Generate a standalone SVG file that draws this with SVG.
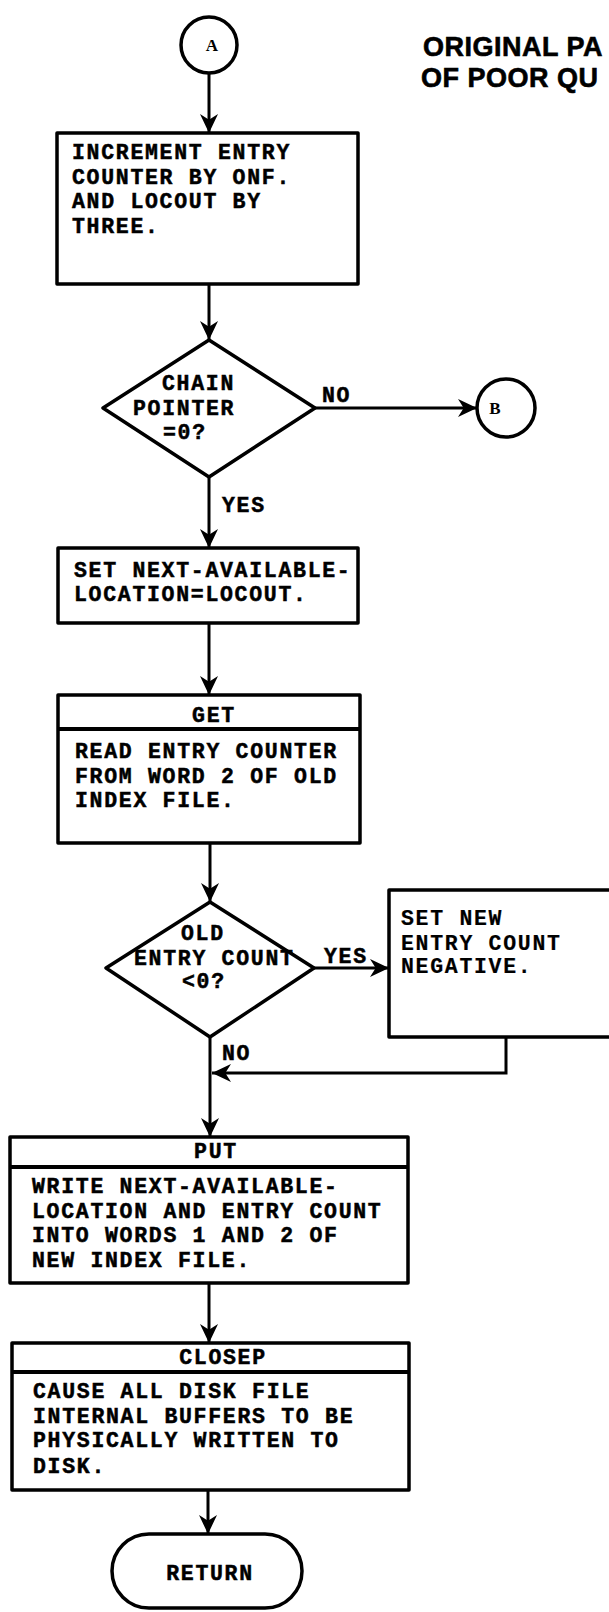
<svg xmlns="http://www.w3.org/2000/svg" width="609" height="1612" viewBox="0 0 609 1612">
<defs>
<style>
.shape{fill:#fff;stroke:#000;stroke-width:3.5;stroke-linejoin:round}
.div{stroke:#000;stroke-width:4}
.conn{fill:none;stroke:#000;stroke-width:3}
.t{font-family:"Liberation Mono","DejaVu Sans Mono",monospace;font-weight:bold;font-size:21.5px;letter-spacing:1.7px;fill:#000;stroke:#000;stroke-width:0.5}
.tn{stroke-width:0.2}
.c{text-anchor:middle}
.lbl{font-family:"Liberation Serif","Times New Roman",serif;font-weight:bold;font-size:17px;fill:#000;text-anchor:middle}
.stamp{font-family:"Liberation Sans",Arial,sans-serif;font-weight:bold;font-size:27px;letter-spacing:0.5px;fill:#000;stroke:#000;stroke-width:0.6}
</style>
<marker id="ah" viewBox="0 0 20 20" refX="20" refY="10" markerWidth="20" markerHeight="19" orient="auto" markerUnits="userSpaceOnUse">
<path d="M0,0.5 L20,10 L0,19.5 L6,10 Z" fill="#000"/>
</marker>
</defs>
<rect width="609" height="1612" fill="#fff"/>

<g id="stamp">
<text class="stamp" x="423" y="56">ORIGINAL PA</text>
<text class="stamp" x="421" y="87">OF POOR QU</text>
</g>

<g id="connectors">
<path class="conn" d="M209,73 L209,133" marker-end="url(#ah)"/>
<path class="conn" d="M209,284 L209,340" marker-end="url(#ah)"/>
<path class="conn" d="M315,408 L477,408" marker-end="url(#ah)"/>
<path class="conn" d="M209,477 L209,548" marker-end="url(#ah)"/>
<path class="conn" d="M209,623 L209,695" marker-end="url(#ah)"/>
<path class="conn" d="M210,843 L210,902" marker-end="url(#ah)"/>
<path class="conn" d="M314,968 L389,968" marker-end="url(#ah)"/>
<path class="conn" d="M506,1037 L506,1073 L212,1073" marker-end="url(#ah)"/>
<path class="conn" d="M210,1037 L210,1137" marker-end="url(#ah)"/>
<path class="conn" d="M209,1283 L209,1343" marker-end="url(#ah)"/>
<path class="conn" d="M208,1490 L208,1534" marker-end="url(#ah)"/>
<text class="t" x="322" y="402">NO</text>
<text class="t" x="222" y="512">YES</text>
<text class="t" x="324" y="963">YES</text>
<text class="t" x="222" y="1060">NO</text>
</g>

<g id="connA">
<circle class="shape" cx="209" cy="45" r="28"/>
<text class="lbl" x="212" y="51">A</text>
</g>

<g id="increment">
<rect class="shape" x="57" y="133" width="301" height="151"/>
<text class="t" x="72" y="159">INCREMENT ENTRY</text>
<text class="t" x="72" y="184">COUNTER BY ONF.</text>
<text class="t" x="72" y="208">AND LOCOUT BY</text>
<text class="t" x="72" y="233">THREE.</text>
</g>

<g id="chain">
<polygon class="shape" points="209,340 315,408 209,477 103,408"/>
<text class="t" x="162" y="390">CHAIN</text>
<text class="t" x="133" y="415">POINTER</text>
<text class="t" x="163" y="439">=0?</text>
</g>

<g id="connB">
<circle class="shape" cx="506" cy="408" r="29"/>
<text class="lbl" x="495" y="414">B</text>
</g>

<g id="setnext">
<rect class="shape" x="58" y="548" width="300" height="75"/>
<text class="t" x="74" y="577">SET NEXT-AVAILABLE-</text>
<text class="t" x="74" y="601">LOCATION=LOCOUT.</text>
</g>

<g id="get">
<rect class="shape" x="58" y="695" width="302" height="148"/>
<line class="div" x1="58" y1="729" x2="360" y2="729"/>
<text class="t c" x="214" y="722">GET</text>
<text class="t" x="75" y="758">READ ENTRY COUNTER</text>
<text class="t" x="75" y="783">FROM WORD 2 OF OLD</text>
<text class="t" x="75" y="807">INDEX FILE.</text>
</g>

<g id="oldcount">
<polygon class="shape" points="210,902 314,968 210,1037 106,968"/>
<text class="t" x="181" y="940">OLD</text>
<text class="t" x="134" y="965">ENTRY COUNT</text>
<text class="t" x="182" y="988">&lt;0?</text>
</g>

<g id="setnew">
<rect class="shape" x="389" y="890" width="235" height="147"/>
<text class="t tn" x="401" y="925">SET NEW</text>
<text class="t tn" x="401" y="950">ENTRY COUNT</text>
<text class="t tn" x="401" y="973">NEGATIVE.</text>
</g>

<g id="put">
<rect class="shape" x="10" y="1137" width="398" height="146"/>
<line class="div" x1="10" y1="1167" x2="408" y2="1167"/>
<text class="t c" x="216" y="1158">PUT</text>
<text class="t" x="32" y="1193">WRITE NEXT-AVAILABLE-</text>
<text class="t" x="32" y="1218">LOCATION AND ENTRY COUNT</text>
<text class="t" x="32" y="1242">INTO WORDS 1 AND 2 OF</text>
<text class="t" x="32" y="1267">NEW INDEX FILE.</text>
</g>

<g id="closep">
<rect class="shape" x="12" y="1343" width="397" height="147"/>
<line class="div" x1="12" y1="1372" x2="409" y2="1372"/>
<text class="t c" x="223" y="1364">CLOSEP</text>
<text class="t" x="33" y="1398">CAUSE ALL DISK FILE</text>
<text class="t" x="33" y="1423">INTERNAL BUFFERS TO BE</text>
<text class="t" x="33" y="1447">PHYSICALLY WRITTEN TO</text>
<text class="t" x="33" y="1473">DISK.</text>
</g>

<g id="return">
<rect class="shape" x="112" y="1534" width="190" height="74" rx="37" ry="37"/>
<text class="t c" x="210" y="1580">RETURN</text>
</g>
</svg>
